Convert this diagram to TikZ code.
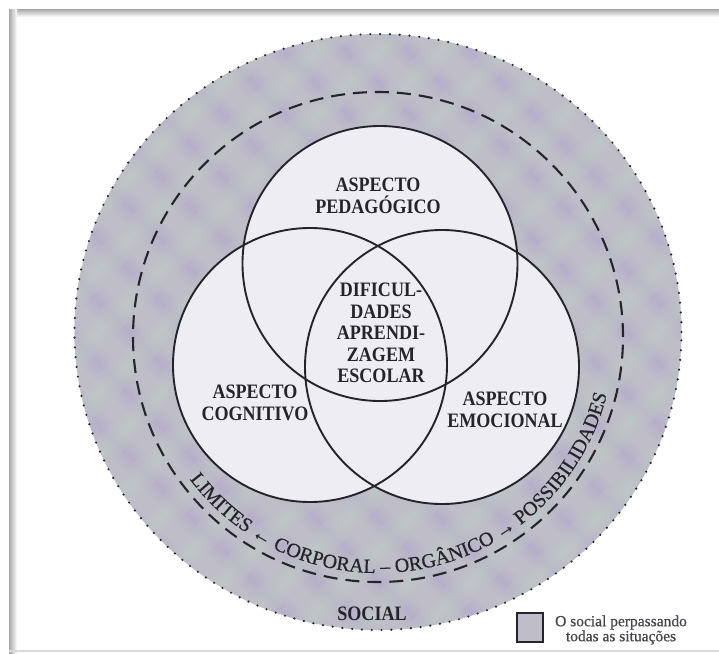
\documentclass[tikz,border=0pt]{standalone}
\usepackage{fontspec}
\setmainfont{Liberation Serif}
\newfontfamily\lblfont[FakeStretch=0.88]{Liberation Serif}
\newfontfamily\arcfont[FakeBold=0.5]{Liberation Serif}
\usetikzlibrary{decorations.text}
\definecolor{socialbg}{RGB}{191,189,200}
\definecolor{lav}{RGB}{176,162,204}
\definecolor{sage}{RGB}{188,208,194}
\definecolor{venninner}{RGB}{238,237,243}
\definecolor{ink}{RGB}{36,36,42}
\definecolor{framegray}{RGB}{168,168,168}
\begin{document}
\begin{tikzpicture}[x=1pt,y=1pt,
  venn/.style={draw=ink, line width=1.9pt},
  lbl/.style={font=\lblfont\bfseries\fontsize{20.5}{21.5}\selectfont, text=ink, align=center, inner sep=0pt},
  legendtxt/.style={font=\arcfont\fontsize{15.5}{15}\selectfont, text=ink!85, align=center, inner sep=0pt},
  dashring/.style={draw=ink, line width=2.1pt, dash pattern=on 14pt off 8pt},
  dotring/.style={draw=ink, line width=2.4pt, line cap=round, dash pattern=on 0pt off 9.8pt}
]
\useasboundingbox (0,0) rectangle (719,-653);
\fill[white] (0,0) rectangle (719,-653);
% frame
\shade[top color=framegray, bottom color=white] (9,-9) rectangle (719,-17);
\shade[left color=framegray, right color=white] (9,-9) rectangle (17,-653);
\draw[gray!30, line width=1.2pt] (9,-651) -- (719,-651);

\coordinate (cBig) at (378,-332);
\coordinate (cDash) at (378,-337);
\coordinate (cTop) at (380,-263.5);
\coordinate (cLeft) at (310,-365);
\coordinate (cRight) at (442,-367);

% textured social ring (soft plaid)
\begin{scope}
  \clip (cBig) ellipse [x radius=303.5, y radius=298];
  \fill[socialbg] (60,-20) rectangle (700,-650);
  \begin{scope}[transform canvas={shift={(378,-332)}, rotate=45}]
    \foreach \k in {-10,...,10} {
      \shade[fill opacity=0.5, left color=socialbg, right color=socialbg, middle color=lav]
        ({\k*44-14},-440) rectangle ({\k*44+14},440);
    }
  \end{scope}
  \begin{scope}[transform canvas={shift={(378,-332)}, rotate=-45}]
    \foreach \k in {-10,...,10} {
      \shade[fill opacity=0.45, left color=socialbg, right color=socialbg, middle color=sage]
        ({\k*44+8},-440) rectangle ({\k*44+36},440);
    }
  \end{scope}
\end{scope}
\draw[dotring] (cBig) ellipse [x radius=303.5, y radius=298];

% dashed ring
\draw[dashring] (cDash) circle [radius=245];

% Venn circles
\fill[venninner] (cTop) circle [radius=137.5];
\fill[venninner] (cLeft) circle [radius=137];
\fill[venninner] (cRight) circle [radius=137];
\draw[venn] (cTop) circle [radius=137.5];
\draw[venn] (cLeft) circle [radius=137];
\draw[venn] (cRight) circle [radius=137];

% labels
\node[lbl] (ped) at (378,-196) {ASPECTO\\PEDAGÓGICO};
\node[lbl] (dif) at (381,-333) {DIFICUL-\\DADES\\APRENDI-\\ZAGEM\\ESCOLAR};
\node[lbl] (cog) at (255,-403) {ASPECTO\\COGNITIVO};
\node[lbl] (emo) at (505,-410) {ASPECTO\\EMOCIONAL};
\node[lbl] (soc) at (372,-614) {SOCIAL};

% curved text
\path[decorate, decoration={text along path, text align=center,
  text={|\arcfont\fontsize{20}{20}\selectfont\color{ink}|LIMITES ← CORPORAL – ORGÂNICO → POSSIBILIDADES}}]
  (cDash) ++(212:236) arc [start angle=212, end angle=351, radius=236];

% legend
\filldraw[fill=socialbg, draw=ink, line width=2pt] (517,-613) rectangle (543,-642);
\node[legendtxt] (leg) at (621,-630) {O social perpassando\\todas as situações};
\end{tikzpicture}
\end{document}
